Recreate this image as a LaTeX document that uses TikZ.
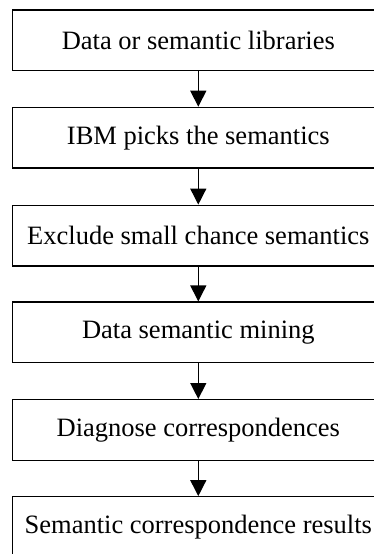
\documentclass[tikz,border=0pt]{standalone}
\usepackage{fontspec}
\setmainfont{Liberation Serif}
\usetikzlibrary{arrows.meta}

\begin{document}
\begin{tikzpicture}[x=1pt,y=-1pt,
  stepbox/.style={draw=black, line width=1.3pt, fill=white,
    minimum width=372pt, minimum height=60.7pt, inner sep=0pt,
    font=\fontsize{26.5}{30}\selectfont},
  flow/.style={line width=1.4pt, -{Triangle[length=16pt,width=16pt]}}]
  \useasboundingbox (0,0) rectangle (374,554);
  \clip (0,0) rectangle (374,554);

  % process steps, top to bottom
  \node[stepbox] (s1) at (198.3, 40.4)  {Data or semantic libraries};
  \node[stepbox] (s2) at (198.3, 137.7) {IBM picks the semantics};
  \node[stepbox] (s3) at (198.3, 235.6) {Exclude small chance semantics};
  \node[stepbox] (s4) at (198.3, 332.4) {Data semantic mining};
  \node[stepbox] (s5) at (198.3, 430.0) {Diagnose correspondences};
  \node[stepbox] (s6) at (198.3, 527.1) {Semantic correspondence results};

  % connectors
  \draw[flow] (s1.south) -- (s2.north);
  \draw[flow] (s2.south) -- (s3.north);
  \draw[flow] (s3.south) -- (s4.north);
  \draw[flow] (s4.south) -- (s5.north);
  \draw[flow] (s5.south) -- (s6.north);
\end{tikzpicture}
\end{document}
